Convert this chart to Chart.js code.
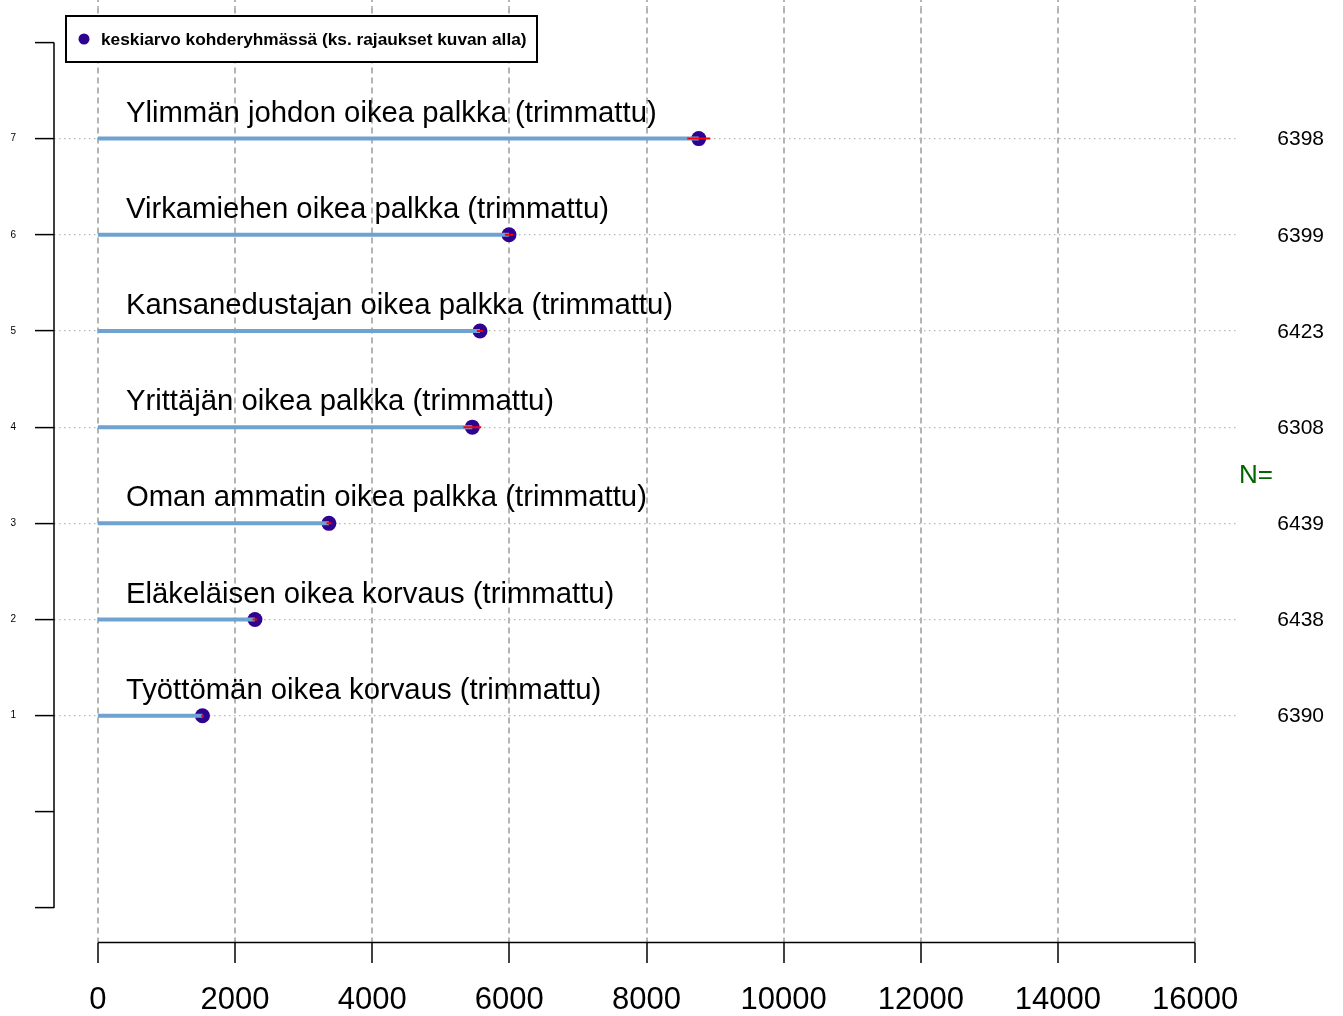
<!DOCTYPE html>
<html>
<head>
<meta charset="utf-8">
<script src="https://cdn.jsdelivr.net/npm/chart.js@4/dist/chart.umd.min.js"></script>
<style>
html,body{margin:0;padding:0;background:#fff;}
#wrap{width:1343px;height:1016px;position:relative;}
</style>
</head>
<body>
<div id="wrap"><canvas id="c" width="1343" height="1016"></canvas></div>
<script>
// Data (row 1 = bottom, row 7 = top)
const rowPositions = [1, 2, 3, 4, 5, 6, 7];
const categories = [
  "Työttömän oikea korvaus (trimmattu)",
  "Eläkeläisen oikea korvaus (trimmattu)",
  "Oman ammatin oikea palkka (trimmattu)",
  "Yrittäjän oikea palkka (trimmattu)",
  "Kansanedustajan oikea palkka (trimmattu)",
  "Virkamiehen oikea palkka (trimmattu)",
  "Ylimmän johdon oikea palkka (trimmattu)"
];
const means = [1525, 2290, 3369, 5460, 5572, 5995, 8762];
const ciHalf = [20, 35, 35, 130, 45, 60, 168];
const counts = [6390, 6438, 6439, 6308, 6423, 6399, 6398];
const xTicks = [0, 2000, 4000, 6000, 8000, 10000, 12000, 14000, 16000];
const yTicks = [-1, 0, 1, 2, 3, 4, 5, 6, 7, 8];
const legendLabel = "keskiarvo kohderyhmässä (ks. rajaukset kuvan alla)";
const nTitle = "N=";
const nTitleRow = 3.5;

const FONT = "'Liberation Sans', Arial, Helvetica, sans-serif";

// Build datasets from arrays
const stemData = [];
rowPositions.forEach((r, i) => { stemData.push({x: 0, y: r}, {x: means[i], y: r}, {x: null, y: null}); });
const ciData = [];
rowPositions.forEach((r, i) => { ciData.push({x: means[i] - ciHalf[i], y: r}, {x: means[i] + ciHalf[i], y: r}, {x: null, y: null}); });
const pointData = rowPositions.map((r, i) => ({x: means[i], y: r}));

const extras = {
  id: 'extras',
  beforeDatasetsDraw(chart) {
    // extend the dashed vertical grid lines up to the top edge
    const ctx = chart.ctx, xs = chart.scales.x;
    ctx.save();
    ctx.strokeStyle = '#b4b4b4';
    ctx.lineWidth = 2;
    ctx.setLineDash([6, 4]);
    ctx.lineDashOffset = 4;
    xTicks.forEach(v => {
      const px = Math.round(xs.getPixelForValue(v));
      ctx.beginPath();
      ctx.moveTo(px, 0);
      ctx.lineTo(px, chart.chartArea.top);
      ctx.stroke();
    });
    ctx.restore();
  },
  afterDraw(chart) {
    const ctx = chart.ctx;
    const xs = chart.scales.x, ys = chart.scales.y;
    ctx.save();
    // axis lines (R style)
    ctx.strokeStyle = '#000';
    ctx.lineWidth = 1.5;
    ctx.beginPath();
    const yb = chart.chartArea.bottom - 0.5;
    ctx.moveTo(xs.getPixelForValue(xTicks[0]), yb);
    ctx.lineTo(xs.getPixelForValue(xTicks[xTicks.length - 1]), yb);
    const xl = chart.chartArea.left;
    ctx.moveTo(xl, ys.getPixelForValue(yTicks[0]));
    ctx.lineTo(xl, ys.getPixelForValue(yTicks[yTicks.length - 1]));
    ctx.stroke();

    // category labels
    ctx.fillStyle = '#000';
    ctx.font = '29.3px ' + FONT;
    ctx.textAlign = 'left';
    ctx.textBaseline = 'alphabetic';
    rowPositions.forEach((r, i) => {
      ctx.fillText(categories[i], xs.getPixelForValue(0) + 28, ys.getPixelForValue(r) - 17);
    });

    // N counts
    ctx.font = '21px ' + FONT;
    ctx.textAlign = 'right';
    ctx.textBaseline = 'middle';
    rowPositions.forEach((r, i) => {
      ctx.fillText(String(counts[i]), chart.width - 19, ys.getPixelForValue(r) + 1);
    });
    ctx.fillStyle = '#006400';
    ctx.font = '26px ' + FONT;
    ctx.textAlign = 'center';
    ctx.fillText(nTitle, chart.chartArea.right + 17, ys.getPixelForValue(nTitleRow) + 1);

    // legend
    const bx = 66, by = 16, bw = 471, bh = 46;
    ctx.fillStyle = '#fff';
    ctx.fillRect(bx, by, bw, bh);
    ctx.strokeStyle = '#000';
    ctx.lineWidth = 2;
    ctx.strokeRect(bx, by, bw, bh);
    ctx.fillStyle = '#2f0391';
    ctx.beginPath();
    ctx.arc(84, 39, 5.5, 0, Math.PI * 2);
    ctx.fill();
    ctx.fillStyle = '#000';
    ctx.font = 'bold 17.3px ' + FONT;
    ctx.textAlign = 'left';
    ctx.textBaseline = 'middle';
    ctx.fillText(legendLabel, 101, 40);
    ctx.restore();
  }
};

new Chart(document.getElementById('c'), {
  type: 'scatter',
  data: {
    datasets: [
      { label: 'ci', data: ciData, showLine: true, spanGaps: false, borderColor: '#ff0000', borderWidth: 2, pointRadius: 0, order: 1 },
      { label: 'stem', data: stemData, showLine: true, spanGaps: false, borderColor: '#6fa3cf', borderWidth: 4, pointRadius: 0, borderCapStyle: 'butt', order: 2 },
      { label: legendLabel, data: pointData, pointRadius: 7.5, pointBackgroundColor: '#2f0391', pointBorderColor: '#2f0391', borderWidth: 0, order: 3 }
    ]
  },
  options: {
    responsive: false,
    animation: false,
    events: [],
    layout: { padding: { left: 0, right: 104, top: 6, bottom: 0 } },
    plugins: { legend: { display: false }, tooltip: { enabled: false } },
    scales: {
      x: {
        type: 'linear', position: 'bottom',
        min: -640, max: 16640,
        afterBuildTicks: (s) => { s.ticks = xTicks.map(v => ({value: v})); },
        afterFit: (s) => { s.height = 73; },
        border: { display: false, dash: [6, 4] },
        grid: {
          color: '#b4b4b4', lineWidth: 2,
          tickLength: 20, tickColor: '#000', tickWidth: 1.5, tickBorderDash: []
        },
        ticks: { color: '#000', padding: 19, maxRotation: 0, autoSkip: false,
          font: { family: FONT, size: 31 }, callback: (v) => String(v) }
      },
      y: {
        type: 'linear', position: 'left',
        min: -1.3633, max: 8.3633,
        afterBuildTicks: (s) => { s.ticks = yTicks.map(v => ({value: v})); },
        afterFit: (s) => { s.width = 54; s.paddingTop = 0; s.paddingBottom = 0; },
        border: { display: false, dash: [1.5, 3.5] },
        grid: {
          color: (c) => (c.tick && c.tick.value >= 1 && c.tick.value <= 7) ? '#b8b8b8' : 'rgba(0,0,0,0)',
          lineWidth: 1.2,
          tickLength: 19, tickColor: '#000', tickWidth: 1.5, tickBorderDash: []
        },
        ticks: { color: '#000', padding: 19, autoSkip: false,
          font: { family: FONT, size: 10 },
          callback: (v) => (v >= 1 && v <= 7) ? String(v) : '' }
      }
    }
  },
  plugins: [extras]
});
</script>
</body>
</html>
